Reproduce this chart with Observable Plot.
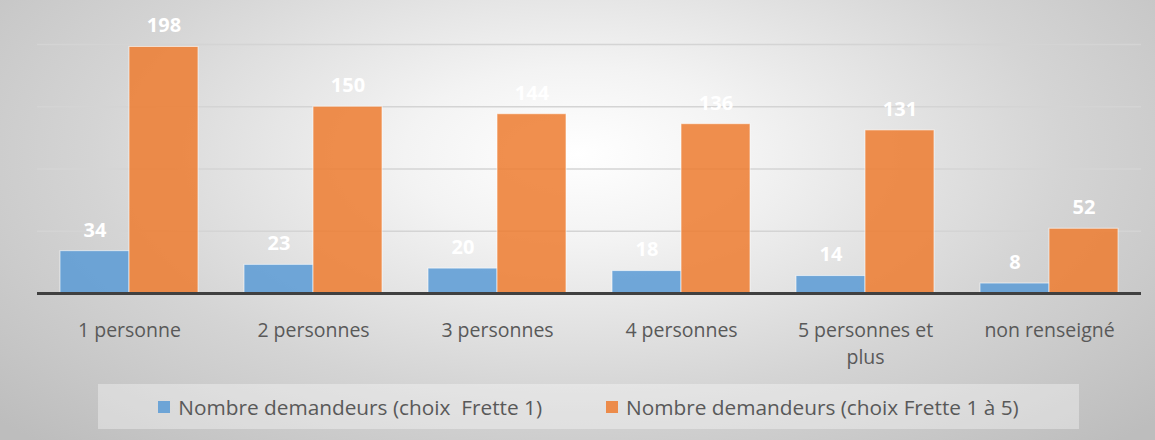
<!DOCTYPE html>
<html>
<head>
<meta charset="utf-8">
<script src="https://cdn.jsdelivr.net/npm/d3@7"></script>
<script src="https://cdn.jsdelivr.net/npm/@observablehq/plot@0.6"></script>
<style>
  html, body { margin: 0; padding: 0; }
  #wrap {
    position: relative; width: 1155px; height: 440px; overflow: hidden;
    background: radial-gradient(ellipse 68% 90% at 50% 35%, #ffffff 0%, #f3f3f3 22%, #d4d4d4 62%, #bdbdbd 100%);
    font-family: "Open Sans", sans-serif;
  }
  #chart svg { display: block; }
  #legend {
    position: absolute; left: 98px; top: 384px; width: 981px; height: 45px;
    background: rgba(255,255,255,0.35);
    display: flex; align-items: center; justify-content: center; gap: 64px;
    font-size: 20.8px; color: #595959; white-space: pre;
  }
  #legend .item { display: flex; align-items: center; }
  #legend .sw { width: 12px; height: 12px; margin-right: 8px; }
</style>
</head>
<body>
<div id="wrap">
  <div id="chart"></div>
  <div id="legend"></div>
</div>
<script>
const categories = ["1 personne", "2 personnes", "3 personnes", "4 personnes", "5 personnes et plus", "non renseigné"];
const seriesNames = ["Nombre demandeurs (choix  Frette 1)", "Nombre demandeurs (choix Frette 1 à 5)"];
const choix1 = [34, 23, 20, 18, 14, 8];
const choix1a5 = [198, 150, 144, 136, 131, 52];
const colors = ["#5B9BD5", "#ED7D31"];
const yTicks = [50, 100, 150, 200];

const data = [];
categories.forEach((c, i) => {
  data.push({cat: c, series: seriesNames[0], value: choix1[i]});
  data.push({cat: c, series: seriesNames[1], value: choix1a5[i]});
});

const chart = Plot.plot({
  width: 1155,
  height: 380,
  marginTop: 44,
  marginBottom: 87,
  marginLeft: 37,
  marginRight: 14,
  style: {background: "transparent", fontFamily: "Open Sans, sans-serif"},
  fx: {domain: categories, paddingInner: 0.25, paddingOuter: 0.125, label: null, axis: null},
  x: {domain: seriesNames, padding: 0, axis: null},
  y: {domain: [0, 200], axis: null},
  color: {domain: seriesNames, range: colors},
  marks: [
    Plot.ruleY(yTicks, {stroke: "#d4d4d4", strokeWidth: 1.3, insetLeft: -23, insetRight: -23}),
    Plot.barY(data, {fx: "cat", x: "series", y: "value", fill: "series", fillOpacity: 0.86, stroke: "white", strokeOpacity: 0.6, strokeWidth: 1}),
    Plot.ruleY([0], {stroke: "#404040", strokeWidth: 3, insetLeft: -23, insetRight: -23}),
    Plot.text(data, {fx: "cat", x: "series", y: "value", text: d => String(d.value), dy: -21, fill: "white", fontWeight: "bold", fontSize: 20}),
    Plot.axisFx({anchor: "bottom", tickSize: 0, tickPadding: 24, fontSize: 19.5, fill: "#595959", lineHeight: 1.38,
      tickFormat: d => d.replace(" et plus", " et\nplus"), label: null})
  ]
});
document.getElementById("chart").appendChild(chart);

const legend = document.getElementById("legend");
seriesNames.forEach((s, i) => {
  const item = document.createElement("div");
  item.className = "item";
  const sw = document.createElement("span");
  sw.className = "sw";
  sw.style.background = colors[i];
  sw.style.opacity = 0.86;
  const t = document.createElement("span");
  t.textContent = s;
  item.appendChild(sw);
  item.appendChild(t);
  legend.appendChild(item);
});
</script>
</body>
</html>
